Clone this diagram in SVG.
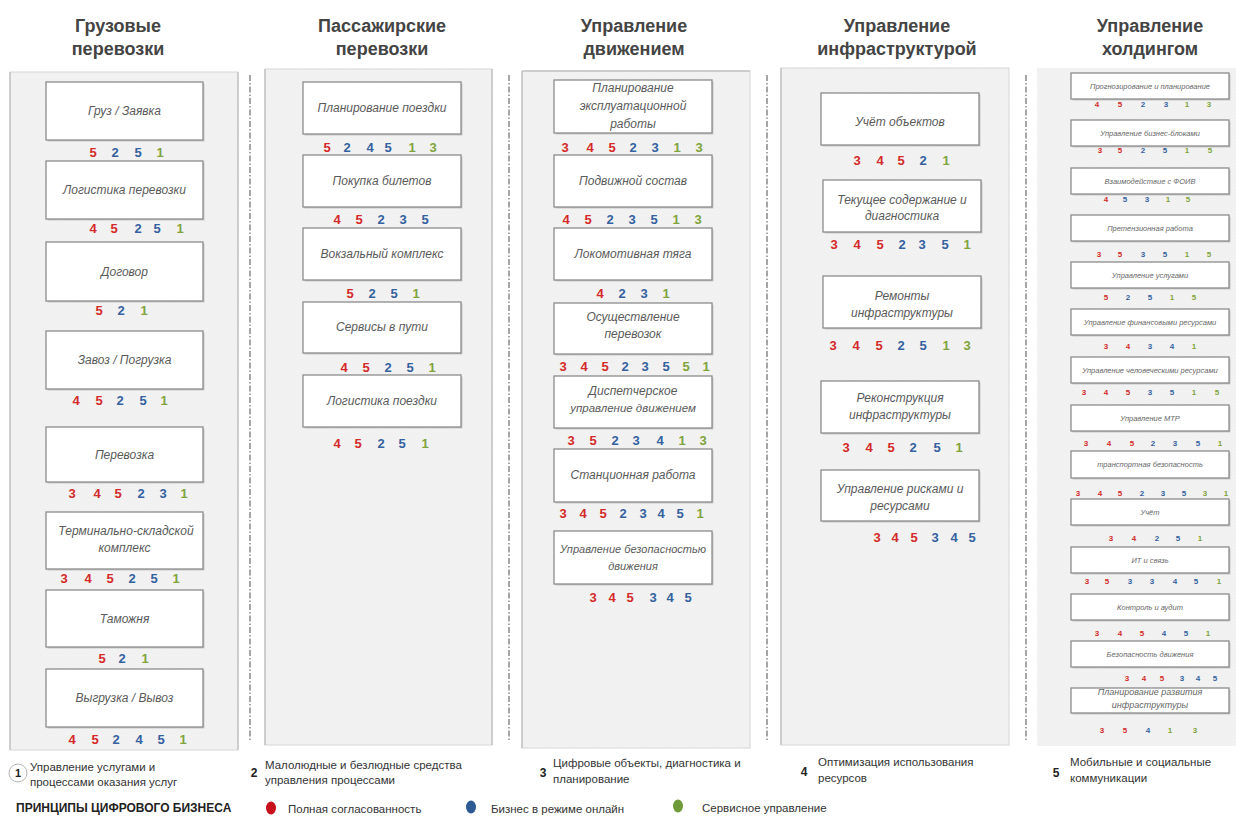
<svg xmlns="http://www.w3.org/2000/svg" width="1236" height="819" viewBox="0 0 1236 819">
<defs>
<pattern id="tex" width="3" height="3" patternUnits="userSpaceOnUse">
<rect width="3" height="3" fill="#f3f3f3"/>
<path d="M0 3L3 0" stroke="#ececec" stroke-width="0.8"/>
</pattern>
<style>
.t{font-family:"Liberation Sans",Arial,sans-serif;font-weight:bold;font-size:18px;fill:#444;text-anchor:middle}
.panel{fill:url(#tex);stroke:#d6d6d6;stroke-width:1}
.pl{stroke:#c4c4c4;stroke-width:1.5}
.sep{stroke:#777;stroke-width:1.3;stroke-dasharray:6 2 1.5 2;fill:none}
.bx{fill:#fff;stroke:#8c8c8c;stroke-width:1.3}
.sh{fill:#c9c9c9}
.lb{font-family:"Liberation Sans",Arial,sans-serif;font-style:italic;font-size:12px;fill:#5a5a5a;text-anchor:middle}
.ls{font-family:"Liberation Sans",Arial,sans-serif;font-style:italic;font-size:7.5px;fill:#666;text-anchor:middle}
.n{font-family:"Liberation Sans",Arial,sans-serif;font-weight:bold;font-size:13px;text-anchor:middle}
.ns{font-family:"Liberation Sans",Arial,sans-serif;font-weight:bold;font-size:8px;text-anchor:middle}
.r{fill:#d42a2a}.b{fill:#34619f}.g{fill:#80a43c}
.lg{font-family:"Liberation Sans",Arial,sans-serif;font-size:11.5px;fill:#333}
.lgn{font-family:"Liberation Sans",Arial,sans-serif;font-size:12px;font-weight:bold;fill:#222;text-anchor:middle}
</style>
</defs>
<rect width="1236" height="819" fill="#fff"/>

<!-- titles -->
<g id="titles">
<text class="t" x="118" y="32">Грузовые</text><text class="t" x="118" y="55">перевозки</text>
<text class="t" x="382" y="32">Пассажирские</text><text class="t" x="382" y="55">перевозки</text>
<text class="t" x="634" y="32">Управление</text><text class="t" x="634" y="55">движением</text>
<text class="t" x="897" y="32">Управление</text><text class="t" x="897" y="55">инфраструктурой</text>
<text class="t" x="1150" y="32">Управление</text><text class="t" x="1150" y="55">холдингом</text>
</g>

<!-- panels -->
<g id="panels">
<rect class="panel" x="10" y="72" width="228" height="678"/>
<line class="pl" x1="10" y1="72" x2="10" y2="750"/><line class="pl" x1="238" y1="72" x2="238" y2="750"/>
<rect class="panel" x="265" y="69" width="227" height="676"/>
<line class="pl" x1="265" y1="69" x2="265" y2="745"/><line class="pl" x1="492" y1="69" x2="492" y2="745"/>
<rect class="panel" x="522" y="71" width="228" height="677"/>
<line class="pl" x1="522" y1="71" x2="522" y2="748"/><line class="pl" x1="522" y1="71" x2="750" y2="71"/>
<rect class="panel" x="781" y="68" width="228" height="677"/>
<line class="pl" x1="781" y1="68" x2="781" y2="745"/>
<rect x="1037" y="68" width="199" height="678" fill="url(#tex)"/>
</g>

<!-- separators -->
<g id="connectors">
<line class="sep" x1="250" y1="75" x2="250" y2="740"/>
<line class="sep" x1="509" y1="75" x2="509" y2="740"/>
<line class="sep" x1="767" y1="75" x2="767" y2="740"/>
<line class="sep" x1="1026" y1="75" x2="1026" y2="740"/>
</g>

<!-- column 1 -->
<g id="c1n1"><rect class="sh" x="47.5" y="83.5" width="157" height="58"/><rect class="bx" x="46" y="82" width="157" height="58"/><text class="lb" x="124.5" y="115">Груз / Заявка</text>
<text class="n r" x="93" y="157">5</text><text class="n b" x="115" y="157">2</text><text class="n b" x="138" y="157">5</text><text class="n g" x="160" y="157">1</text></g>
<g id="c1n2"><rect class="sh" x="47.5" y="162.5" width="157" height="58"/><rect class="bx" x="46" y="161" width="157" height="58"/><text class="lb" x="124.5" y="194">Логистика перевозки</text>
<text class="n r" x="93" y="233">4</text><text class="n r" x="114" y="233">5</text><text class="n b" x="138" y="233">2</text><text class="n b" x="157" y="233">5</text><text class="n g" x="180" y="233">1</text></g>
<g id="c1n3"><rect class="sh" x="47.5" y="243.5" width="157" height="59"/><rect class="bx" x="46" y="242" width="157" height="59"/><text class="lb" x="124.5" y="276">Договор</text>
<text class="n r" x="99" y="315">5</text><text class="n b" x="121" y="315">2</text><text class="n g" x="144" y="315">1</text></g>
<g id="c1n4"><rect class="sh" x="47.5" y="332.5" width="157" height="58"/><rect class="bx" x="46" y="331" width="157" height="58"/><text class="lb" x="124.5" y="364">Завоз / Погрузка</text>
<text class="n r" x="76" y="405">4</text><text class="n r" x="99" y="405">5</text><text class="n b" x="120" y="405">2</text><text class="n b" x="143" y="405">5</text><text class="n g" x="164" y="405">1</text></g>
<g id="c1n5"><rect class="sh" x="47.5" y="428.5" width="157" height="55"/><rect class="bx" x="46" y="427" width="157" height="55"/><text class="lb" x="124.5" y="459">Перевозка</text>
<text class="n r" x="72" y="498">3</text><text class="n r" x="97" y="498">4</text><text class="n r" x="118" y="498">5</text><text class="n b" x="141" y="498">2</text><text class="n b" x="163" y="498">3</text><text class="n g" x="184" y="498">1</text></g>
<g id="c1n6"><rect class="sh" x="47.5" y="513.5" width="157" height="57"/><rect class="bx" x="46" y="512" width="157" height="57"/><text class="lb" x="126" y="535">Терминально-складской</text><text class="lb" x="124.5" y="552">комплекс</text>
<text class="n r" x="64" y="583">3</text><text class="n r" x="88" y="583">4</text><text class="n r" x="110" y="583">5</text><text class="n b" x="132" y="583">2</text><text class="n b" x="154" y="583">5</text><text class="n g" x="176" y="583">1</text></g>
<g id="c1n7"><rect class="sh" x="47.5" y="591.5" width="157" height="57"/><rect class="bx" x="46" y="590" width="157" height="57"/><text class="lb" x="124.5" y="623">Таможня</text>
<text class="n r" x="102" y="663">5</text><text class="n b" x="122" y="663">2</text><text class="n g" x="145" y="663">1</text></g>
<g id="c1n8"><rect class="sh" x="47.5" y="670.5" width="157" height="58"/><rect class="bx" x="46" y="669" width="157" height="58"/><text class="lb" x="124.5" y="702">Выгрузка / Вывоз</text>
<text class="n r" x="72" y="744">4</text><text class="n r" x="95" y="744">5</text><text class="n b" x="116" y="744">2</text><text class="n b" x="139" y="744">4</text><text class="n b" x="161" y="744">5</text><text class="n g" x="183" y="744">1</text></g>

<!-- column 2 -->
<g id="c2n1"><rect class="sh" x="304.5" y="83.5" width="158" height="52"/><rect class="bx" x="303" y="82" width="158" height="52"/><text class="lb" x="382" y="112">Планирование поездки</text>
<text class="n r" x="327" y="152">5</text><text class="n b" x="347" y="152">2</text><text class="n b" x="370" y="152">4</text><text class="n b" x="388" y="152">5</text><text class="n g" x="412" y="152">1</text><text class="n g" x="433" y="152">3</text></g>
<g id="c2n2"><rect class="sh" x="304.5" y="156.5" width="158" height="52"/><rect class="bx" x="303" y="155" width="158" height="52"/><text class="lb" x="382" y="185">Покупка билетов</text>
<text class="n r" x="337" y="224">4</text><text class="n r" x="359" y="224">5</text><text class="n b" x="381" y="224">2</text><text class="n b" x="403" y="224">3</text><text class="n b" x="425" y="224">5</text></g>
<g id="c2n3"><rect class="sh" x="304.5" y="229.5" width="158" height="52"/><rect class="bx" x="303" y="228" width="158" height="52"/><text class="lb" x="382" y="258">Вокзальный комплекс</text>
<text class="n r" x="350" y="298">5</text><text class="n b" x="372" y="298">2</text><text class="n b" x="394" y="298">5</text><text class="n g" x="416" y="298">1</text></g>
<g id="c2n4"><rect class="sh" x="304.5" y="303.5" width="158" height="51"/><rect class="bx" x="303" y="302" width="158" height="51"/><text class="lb" x="382" y="331">Сервисы в пути</text>
<text class="n r" x="344" y="372">4</text><text class="n r" x="366" y="372">5</text><text class="n b" x="388" y="372">2</text><text class="n b" x="410" y="372">5</text><text class="n g" x="432" y="372">1</text></g>
<g id="c2n5"><rect class="sh" x="304.5" y="376.5" width="158" height="52"/><rect class="bx" x="303" y="375" width="158" height="52"/><text class="lb" x="382" y="405">Логистика поездки</text>
<text class="n r" x="337" y="448">4</text><text class="n r" x="358" y="448">5</text><text class="n b" x="381" y="448">2</text><text class="n b" x="402" y="448">5</text><text class="n g" x="425" y="448">1</text></g>

<!-- column 3 -->
<g id="c3n1"><rect class="sh" x="555.5" y="81.5" width="158" height="53"/><rect class="bx" x="554" y="80" width="158" height="53"/><text class="lb" x="633" y="92">Планирование</text><text class="lb" x="633" y="110">эксплуатационной</text><text class="lb" x="633" y="128">работы</text>
<text class="n r" x="565" y="152">3</text><text class="n r" x="590" y="152">4</text><text class="n r" x="612" y="152">5</text><text class="n b" x="633" y="152">2</text><text class="n b" x="655" y="152">3</text><text class="n g" x="677" y="152">1</text><text class="n g" x="699" y="152">3</text></g>
<g id="c3n2"><rect class="sh" x="555.5" y="156.5" width="158" height="52"/><rect class="bx" x="554" y="155" width="158" height="52"/><text class="lb" x="633" y="185">Подвижной состав</text>
<text class="n r" x="566" y="224">4</text><text class="n r" x="588" y="224">5</text><text class="n b" x="610" y="224">2</text><text class="n b" x="632" y="224">3</text><text class="n b" x="654" y="224">5</text><text class="n g" x="676" y="224">1</text><text class="n g" x="698" y="224">3</text></g>
<g id="c3n3"><rect class="sh" x="555.5" y="229.5" width="158" height="52"/><rect class="bx" x="554" y="228" width="158" height="52"/><text class="lb" x="633" y="258">Локомотивная тяга</text>
<text class="n r" x="600" y="298">4</text><text class="n b" x="622" y="298">2</text><text class="n b" x="644" y="298">3</text><text class="n g" x="666" y="298">1</text></g>
<g id="c3n4"><rect class="sh" x="555.5" y="304.5" width="158" height="51"/><rect class="bx" x="554" y="303" width="158" height="51"/><text class="lb" x="633" y="321">Осуществление</text><text class="lb" x="633" y="338">перевозок</text>
<text class="n r" x="563" y="371">3</text><text class="n r" x="584" y="371">4</text><text class="n r" x="605" y="371">5</text><text class="n b" x="625" y="371">2</text><text class="n b" x="645" y="371">3</text><text class="n b" x="666" y="371">5</text><text class="n g" x="686" y="371">5</text><text class="n g" x="706" y="371">1</text></g>
<g id="c3n5"><rect class="sh" x="555.5" y="377.5" width="158" height="52"/><rect class="bx" x="554" y="376" width="158" height="52"/><text class="lb" x="633" y="395">Диспетчерское</text><text class="lb" x="633" y="412" style="font-size:11.5px">управление движением</text>
<text class="n r" x="571" y="445">3</text><text class="n r" x="593" y="445">5</text><text class="n b" x="615" y="445">2</text><text class="n b" x="636" y="445">3</text><text class="n b" x="660" y="445">4</text><text class="n g" x="682" y="445">1</text><text class="n g" x="703" y="445">3</text></g>
<g id="c3n6"><rect class="sh" x="555.5" y="450.5" width="158" height="53"/><rect class="bx" x="554" y="449" width="158" height="53"/><text class="lb" x="633" y="479">Станционная работа</text>
<text class="n r" x="563" y="518">3</text><text class="n r" x="583" y="518">4</text><text class="n r" x="603" y="518">5</text><text class="n b" x="623" y="518">2</text><text class="n b" x="643" y="518">3</text><text class="n b" x="661" y="518">4</text><text class="n b" x="680" y="518">5</text><text class="n g" x="700" y="518">1</text></g>
<g id="c3n7"><rect class="sh" x="555.5" y="532.5" width="158" height="53"/><rect class="bx" x="554" y="531" width="158" height="53"/><text class="lb" x="633" y="553" style="font-size:11px">Управление безопасностью</text><text class="lb" x="633" y="570" style="font-size:11px">движения</text>
<text class="n r" x="593" y="602">3</text><text class="n r" x="612" y="602">4</text><text class="n r" x="630" y="602">5</text><text class="n b" x="653" y="602">3</text><text class="n b" x="670" y="602">4</text><text class="n b" x="688" y="602">5</text></g>

<!-- column 4 -->
<g id="c4n1"><rect class="sh" x="822.5" y="94.5" width="158" height="52"/><rect class="bx" x="821" y="93" width="158" height="52"/><text class="lb" x="900" y="126">Учёт объектов</text>
<text class="n r" x="857" y="165">3</text><text class="n r" x="880" y="165">4</text><text class="n r" x="901" y="165">5</text><text class="n b" x="923" y="165">2</text><text class="n g" x="946" y="165">1</text></g>
<g id="c4n2"><rect class="sh" x="824.5" y="181.5" width="158" height="52"/><rect class="bx" x="823" y="180" width="158" height="52"/><text class="lb" x="902" y="204">Текущее содержание и</text><text class="lb" x="902" y="220">диагностика</text>
<text class="n r" x="834" y="249">3</text><text class="n r" x="857" y="249">4</text><text class="n r" x="880" y="249">5</text><text class="n b" x="902" y="249">2</text><text class="n b" x="922" y="249">3</text><text class="n b" x="945" y="249">5</text><text class="n g" x="967" y="249">1</text></g>
<g id="c4n3"><rect class="sh" x="824.5" y="277.5" width="158" height="52"/><rect class="bx" x="823" y="276" width="158" height="52"/><text class="lb" x="902" y="300">Ремонты</text><text class="lb" x="902" y="317">инфраструктуры</text>
<text class="n r" x="833" y="350">3</text><text class="n r" x="856" y="350">4</text><text class="n r" x="879" y="350">5</text><text class="n b" x="901" y="350">2</text><text class="n b" x="923" y="350">5</text><text class="n g" x="946" y="350">1</text><text class="n g" x="967" y="350">3</text></g>
<g id="c4n4"><rect class="sh" x="822.5" y="382.5" width="158" height="52"/><rect class="bx" x="821" y="381" width="158" height="52"/><text class="lb" x="900" y="402">Реконструкция</text><text class="lb" x="900" y="419">инфраструктуры</text>
<text class="n r" x="846" y="452">3</text><text class="n r" x="869" y="452">4</text><text class="n r" x="891" y="452">5</text><text class="n b" x="913" y="452">2</text><text class="n b" x="937" y="452">5</text><text class="n g" x="959" y="452">1</text></g>
<g id="c4n5"><rect class="sh" x="822.5" y="471.5" width="158" height="51"/><rect class="bx" x="821" y="470" width="158" height="51"/><text class="lb" x="900" y="493">Управление рисками и</text><text class="lb" x="900" y="510">ресурсами</text>
<text class="n r" x="877" y="542">3</text><text class="n r" x="895" y="542">4</text><text class="n r" x="914" y="542">5</text><text class="n b" x="935" y="542">3</text><text class="n b" x="954" y="542">4</text><text class="n b" x="972" y="542">5</text></g>

<!-- column 5 -->
<g id="c5n1"><rect class="sh" x="1072.5" y="74.5" width="158" height="26"/><rect class="bx" x="1071" y="73" width="158" height="26"/><text class="ls" x="1150" y="89">Прогнозирование  и планирование</text>
<text class="ns r" x="1097" y="107">4</text><text class="ns r" x="1120" y="107">5</text><text class="ns b" x="1143" y="107">2</text><text class="ns b" x="1166" y="107">3</text><text class="ns g" x="1187" y="107">1</text><text class="ns g" x="1209" y="107">3</text></g>
<g id="c5n2"><rect class="sh" x="1072.5" y="121.5" width="158" height="26"/><rect class="bx" x="1071" y="120" width="158" height="26"/><text class="ls" x="1150" y="136">Управление бизнес-блоками</text>
<text class="ns r" x="1100" y="153">3</text><text class="ns r" x="1120" y="153">5</text><text class="ns b" x="1143" y="153">2</text><text class="ns b" x="1165" y="153">5</text><text class="ns g" x="1187" y="153">1</text><text class="ns g" x="1210" y="153">5</text></g>
<g id="c5n3"><rect class="sh" x="1072.5" y="169.5" width="158" height="26"/><rect class="bx" x="1071" y="168" width="158" height="26"/><text class="ls" x="1150" y="184">Взаимодействие  с ФОИВ</text>
<text class="ns r" x="1106" y="202">4</text><text class="ns b" x="1125" y="202">5</text><text class="ns b" x="1147" y="202">3</text><text class="ns g" x="1168" y="202">1</text><text class="ns g" x="1188" y="202">5</text></g>
<g id="c5n4"><rect class="sh" x="1072.5" y="216.5" width="158" height="26"/><rect class="bx" x="1071" y="215" width="158" height="26"/><text class="ls" x="1150" y="231">Претензионная  работа</text>
<text class="ns r" x="1099" y="257">3</text><text class="ns r" x="1120" y="257">5</text><text class="ns b" x="1143" y="257">3</text><text class="ns b" x="1165" y="257">5</text><text class="ns g" x="1187" y="257">1</text><text class="ns g" x="1209" y="257">5</text></g>
<g id="c5n5"><rect class="sh" x="1072.5" y="263.5" width="158" height="26"/><rect class="bx" x="1071" y="262" width="158" height="26"/><text class="ls" x="1150" y="278">Управление  услугами</text>
<text class="ns r" x="1106" y="300">5</text><text class="ns b" x="1128" y="300">2</text><text class="ns b" x="1150" y="300">5</text><text class="ns g" x="1172" y="300">1</text><text class="ns g" x="1194" y="300">5</text></g>
<g id="c5n6"><rect class="sh" x="1072.5" y="310.5" width="158" height="26"/><rect class="bx" x="1071" y="309" width="158" height="26"/><text class="ls" x="1150" y="325">Управление финансовыми  ресурсами</text>
<text class="ns r" x="1106" y="349">3</text><text class="ns r" x="1128" y="349">4</text><text class="ns b" x="1150" y="349">3</text><text class="ns b" x="1172" y="349">4</text><text class="ns g" x="1194" y="349">1</text></g>
<g id="c5n7"><rect class="sh" x="1072.5" y="358.5" width="158" height="26"/><rect class="bx" x="1071" y="357" width="158" height="26"/><text class="ls" x="1150" y="373">Управление человеческими  ресурсами</text>
<text class="ns r" x="1084" y="395">3</text><text class="ns r" x="1106" y="395">4</text><text class="ns r" x="1128" y="395">5</text><text class="ns b" x="1150" y="395">3</text><text class="ns b" x="1172" y="395">5</text><text class="ns g" x="1194" y="395">1</text><text class="ns g" x="1217" y="395">5</text></g>
<g id="c5n8"><rect class="sh" x="1072.5" y="406.5" width="158" height="26"/><rect class="bx" x="1071" y="405" width="158" height="26"/><text class="ls" x="1150" y="421">Управление МТР</text>
<text class="ns r" x="1086" y="446">3</text><text class="ns r" x="1109" y="446">4</text><text class="ns r" x="1132" y="446">5</text><text class="ns b" x="1153" y="446">2</text><text class="ns b" x="1175" y="446">3</text><text class="ns b" x="1198" y="446">5</text><text class="ns g" x="1220" y="446">1</text></g>
<g id="c5n9"><rect class="sh" x="1072.5" y="452.5" width="158" height="27"/><rect class="bx" x="1071" y="451" width="158" height="27"/><text class="ls" x="1150" y="467">транспортная  безопасность</text>
<text class="ns r" x="1078" y="496">3</text><text class="ns r" x="1100" y="496">4</text><text class="ns r" x="1120" y="496">5</text><text class="ns b" x="1142" y="496">2</text><text class="ns b" x="1163" y="496">3</text><text class="ns b" x="1184" y="496">5</text><text class="ns g" x="1205" y="496">3</text><text class="ns g" x="1226" y="496">1</text></g>
<g id="c5n10"><rect class="sh" x="1072.5" y="500.5" width="158" height="26"/><rect class="bx" x="1071" y="499" width="158" height="26"/><text class="ls" x="1150" y="515">Учёт</text>
<text class="ns r" x="1111" y="541">3</text><text class="ns r" x="1134" y="541">4</text><text class="ns b" x="1157" y="541">2</text><text class="ns b" x="1178" y="541">5</text><text class="ns g" x="1200" y="541">1</text></g>
<g id="c5n11"><rect class="sh" x="1072.5" y="548.5" width="158" height="26"/><rect class="bx" x="1071" y="547" width="158" height="26"/><text class="ls" x="1150" y="563">ИТ и связь</text>
<text class="ns r" x="1087" y="584">3</text><text class="ns r" x="1107" y="584">5</text><text class="ns b" x="1130" y="584">3</text><text class="ns b" x="1152" y="584">3</text><text class="ns b" x="1175" y="584">4</text><text class="ns b" x="1196" y="584">5</text><text class="ns g" x="1219" y="584">1</text></g>
<g id="c5n12"><rect class="sh" x="1072.5" y="595.5" width="158" height="26"/><rect class="bx" x="1071" y="594" width="158" height="26"/><text class="ls" x="1150" y="610">Контроль  и аудит</text>
<text class="ns r" x="1097" y="636">3</text><text class="ns r" x="1120" y="636">4</text><text class="ns r" x="1142" y="636">5</text><text class="ns b" x="1164" y="636">4</text><text class="ns b" x="1186" y="636">5</text><text class="ns g" x="1208" y="636">1</text></g>
<g id="c5n13"><rect class="sh" x="1072.5" y="642.5" width="158" height="26"/><rect class="bx" x="1071" y="641" width="158" height="26"/><text class="ls" x="1150" y="657">Безопасность  движения</text>
<text class="ns r" x="1127" y="681">3</text><text class="ns r" x="1144" y="681">4</text><text class="ns r" x="1162" y="681">5</text><text class="ns b" x="1182" y="681">3</text><text class="ns b" x="1198" y="681">4</text><text class="ns b" x="1215" y="681">5</text></g>
<g id="c5n14"><rect class="sh" x="1072.5" y="689.5" width="158" height="25"/><rect class="bx" x="1071" y="688" width="158" height="25"/><text class="ls" x="1150" y="695" style="font-size:9px">Планирование развития</text><text class="ls" x="1150" y="708" style="font-size:9px">инфраструктуры</text>
<text class="ns r" x="1102" y="733">3</text><text class="ns r" x="1125" y="733">5</text><text class="ns b" x="1148" y="733">4</text><text class="ns g" x="1170" y="733">1</text><text class="ns g" x="1195" y="733">3</text></g>

<!-- legend -->
<g id="legend">
<circle cx="18" cy="773" r="9" fill="#fff" stroke="#b5b5b5" stroke-width="1"/>
<text class="lgn" x="18" y="777" style="font-size:11px">1</text>
<text class="lg" x="30" y="771">Управление услугами и</text><text class="lg" x="30" y="786">процессами оказания услуг</text>
<text class="lgn" x="254" y="777">2</text>
<text class="lg" x="265" y="769">Малолюдные и безлюдные средства</text><text class="lg" x="265" y="784">управления процессами</text>
<text class="lgn" x="543" y="777">3</text>
<text class="lg" x="553" y="767">Цифровые объекты, диагностика и</text><text class="lg" x="553" y="783">планирование</text>
<text class="lgn" x="804" y="776">4</text>
<text class="lg" x="818" y="766">Оптимизация использования</text><text class="lg" x="818" y="782">ресурсов</text>
<text class="lgn" x="1056" y="777">5</text>
<text class="lg" x="1070" y="766">Мобильные и социальные</text><text class="lg" x="1070" y="782">коммуникации</text>
<text x="16" y="812" style="font-family:'Liberation Sans',Arial,sans-serif;font-weight:bold;font-size:12px;fill:#222">ПРИНЦИПЫ ЦИФРОВОГО БИЗНЕСА</text>
<ellipse cx="271" cy="808" rx="5" ry="6.5" fill="#c8101a"/>
<text class="lg" x="288" y="813">Полная согласованность</text>
<ellipse cx="471" cy="807" rx="5" ry="6.5" fill="#2e5a94"/>
<text class="lg" x="491" y="813">Бизнес в режиме онлайн</text>
<ellipse cx="678" cy="806" rx="5" ry="6.5" fill="#6f9a3a"/>
<text class="lg" x="702" y="812">Сервисное управление</text>
</g>
</svg>
